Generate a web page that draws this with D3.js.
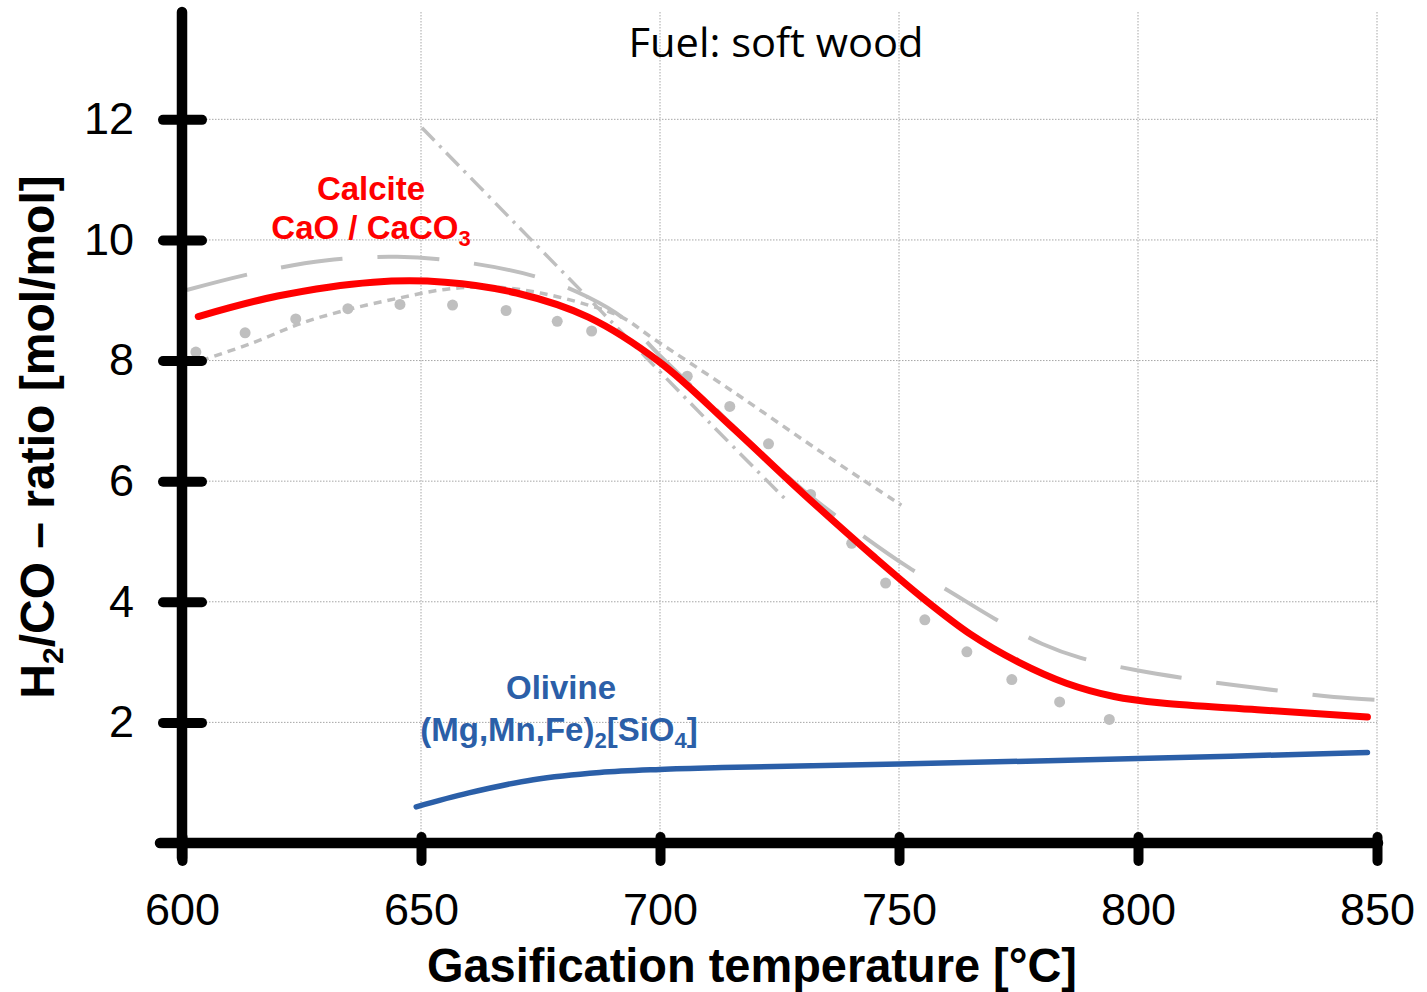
<!DOCTYPE html>
<html>
<head>
<meta charset="utf-8">
<script src="https://cdn.jsdelivr.net/npm/d3@7/dist/d3.min.js"></script>
<style>
  html, body { margin: 0; padding: 0; background: #fff; }
  svg { display: block; }
</style>
</head>
<body>
<svg id="chart" width="1427" height="992" font-family="'Liberation Sans', Arial, sans-serif"></svg>
<script>
// Gasification temperature [°C] and H2/CO ratio [mol/mol]
const xTicks = [600, 650, 700, 750, 800, 850];
const yTicks = [2, 4, 6, 8, 10, 12];

// Calcite (CaO / CaCO3) bed material
const calciteT = [603.4, 620, 640, 655, 670, 685, 700, 715, 730, 745, 755, 765, 775, 785, 795, 805, 825, 848];
const calciteV = [8.73, 9.07, 9.30, 9.30, 9.12, 8.72, 7.97, 6.90, 5.79, 4.73, 4.06, 3.46, 3.00, 2.65, 2.43, 2.32, 2.21, 2.09];

// Olivine ((Mg,Mn,Fe)2[SiO4]) bed material
const olivineT = [649, 660, 673.5, 687.4, 700, 713, 750, 800, 848];
const olivineV = [0.60, 0.83, 1.05, 1.17, 1.22, 1.25, 1.31, 1.40, 1.50];

// Comparison curves (grey)
const longDashT = [601, 615, 630, 645, 660, 675, 685, 692, 700, 710, 720, 730, 742, 752, 760, 770, 780, 788, 800, 810, 820, 830, 841, 851];
const longDashV = [9.17, 9.45, 9.66, 9.72, 9.62, 9.37, 9.05, 8.72, 8.08, 7.32, 6.56, 5.85, 5.12, 4.57, 4.20, 3.72, 3.30, 3.07, 2.86, 2.73, 2.62, 2.52, 2.42, 2.37];

const shortDashT = [604, 615, 625, 635, 645, 655, 665, 675, 685, 692, 698.5, 715, 733, 750.5];
const shortDashV = [8.00, 8.30, 8.62, 8.85, 9.03, 9.18, 9.22, 9.12, 8.92, 8.72, 8.37, 7.50, 6.52, 5.60];

const dashDotT = [650.2, 670, 690, 710, 727];
const dashDotV = [11.86, 10.25, 8.63, 7.00, 5.64];

const pointsT = [602.9, 613.2, 623.8, 634.7, 645.6, 656.6, 667.8, 678.5, 685.7, 705.7, 714.6, 722.7, 731.5, 740.1, 747.2, 755.4, 764.2, 773.6, 783.6, 794.0];
const pointsV = [8.14, 8.46, 8.69, 8.86, 8.93, 8.92, 8.83, 8.65, 8.49, 7.74, 7.24, 6.62, 5.78, 4.97, 4.31, 3.70, 3.17, 2.71, 2.34, 2.05];

const zip = (a, b) => a.map((v, i) => [v, b[i]]);

const svg = d3.select("#chart");
const x = d3.scaleLinear().domain([600, 850]).range([182, 1377]);
const y = d3.scaleLinear().domain([0, 13.78]).range([843, 12]);

const GRID = "#a6a6a6";
const GREY = "#bfbfbf";
const RED = "#ff0000";
const BLUE = "#2b5fa8";

// grid
const grid = svg.append("g");
grid.selectAll("line.h").data(yTicks).join("line")
  .attr("x1", x(600)).attr("x2", x(850))
  .attr("y1", d => y(d)).attr("y2", d => y(d))
  .attr("stroke", GRID).attr("stroke-width", 1).attr("stroke-dasharray", "1.5,1.5");
grid.selectAll("line.v").data(xTicks.slice(1)).join("line")
  .attr("x1", d => x(d)).attr("x2", d => x(d))
  .attr("y1", y(13.78)).attr("y2", y(0))
  .attr("stroke", GRID).attr("stroke-width", 1).attr("stroke-dasharray", "1.5,1.5");

const line = d3.line().x(d => x(d[0])).y(d => y(d[1])).curve(d3.curveCatmullRom.alpha(0.5));

// grey comparison curves
svg.append("path").datum(zip(longDashT, longDashV)).attr("d", line)
  .attr("fill", "none").attr("stroke", GREY).attr("stroke-width", 4)
  .attr("stroke-dasharray", "62,35");
svg.append("path").datum(zip(shortDashT, shortDashV)).attr("d", line)
  .attr("fill", "none").attr("stroke", GREY).attr("stroke-width", 3.5)
  .attr("stroke-dasharray", "8,6");
svg.append("path").datum(zip(dashDotT, dashDotV)).attr("d", line)
  .attr("fill", "none").attr("stroke", GREY).attr("stroke-width", 3.5)
  .attr("stroke-dasharray", "18,7,3,7");
svg.append("g").selectAll("circle").data(zip(pointsT, pointsV)).join("circle")
  .attr("cx", d => x(d[0])).attr("cy", d => y(d[1])).attr("r", 5.5)
  .attr("fill", GREY);

// main curves
svg.append("path").datum(zip(calciteT, calciteV)).attr("d", line)
  .attr("fill", "none").attr("stroke", RED).attr("stroke-width", 7)
  .attr("stroke-linecap", "round").attr("stroke-linejoin", "round");
svg.append("path").datum(zip(olivineT, olivineV)).attr("d", line)
  .attr("fill", "none").attr("stroke", BLUE).attr("stroke-width", 5.5)
  .attr("stroke-linecap", "round").attr("stroke-linejoin", "round");

// axes
const yAxis = svg.append("g").attr("transform", `translate(${x(600)},0)`)
  .call(d3.axisLeft(y).tickValues(yTicks).tickSize(0).tickPadding(48).tickFormat(d3.format("d")));
yAxis.select(".domain").remove();
yAxis.attr("font-family", null).attr("font-size", null);
yAxis.selectAll(".tick text").attr("font-size", 45).attr("fill", "#000");
yAxis.selectAll(".tick").append("line")
  .attr("x1", -19).attr("x2", 20).attr("y1", 0).attr("y2", 0)
  .attr("stroke", "#000").attr("stroke-width", 10).attr("stroke-linecap", "round");

const xAxis = svg.append("g").attr("transform", `translate(0,${y(0)})`)
  .call(d3.axisBottom(x).tickValues(xTicks).tickSize(0).tickPadding(50).tickFormat(d3.format("d")));
xAxis.select(".domain").remove();
xAxis.attr("font-family", null).attr("font-size", null);
xAxis.selectAll(".tick text").attr("font-size", 45).attr("fill", "#000");
xAxis.selectAll(".tick").append("line")
  .attr("x1", 0).attr("x2", 0).attr("y1", -6).attr("y2", 18)
  .attr("stroke", "#000").attr("stroke-width", 10).attr("stroke-linecap", "round");

svg.append("line")
  .attr("x1", x(600)).attr("x2", x(600)).attr("y1", 12).attr("y2", 858)
  .attr("stroke", "#000").attr("stroke-width", 10.5).attr("stroke-linecap", "round");
svg.append("line")
  .attr("x1", 160).attr("x2", 1378).attr("y1", y(0)).attr("y2", y(0))
  .attr("stroke", "#000").attr("stroke-width", 10.5).attr("stroke-linecap", "round");

// titles
svg.append("text").attr("x", 776).attr("y", 57).attr("text-anchor", "middle")
  .attr("font-family", "'Open Sans', 'Noto Sans', sans-serif").attr("font-size", 40)
  .attr("textLength", 295).attr("lengthAdjust", "spacingAndGlyphs")
  .attr("fill", "#000").text("Fuel: soft wood");

svg.append("text").attr("x", 752).attr("y", 982).attr("text-anchor", "middle")
  .attr("font-size", 48).attr("font-weight", "bold")
  .attr("textLength", 650).attr("lengthAdjust", "spacingAndGlyphs")
  .text("Gasification temperature [°C]");

const yt = svg.append("text").attr("transform", "translate(54,437) rotate(-90)")
  .attr("text-anchor", "middle").attr("font-size", 48).attr("font-weight", "bold");
yt.append("tspan").text("H");
yt.append("tspan").attr("font-size", 30).attr("dy", 9).text("2");
yt.append("tspan").attr("dy", -9).text("/CO – ratio [mol/mol]");

// series labels
const calc = svg.append("g").attr("fill", RED).attr("font-weight", "bold").attr("font-size", 33);
calc.append("text").attr("x", 371).attr("y", 200).attr("text-anchor", "middle").text("Calcite");
const c2 = calc.append("text").attr("x", 371).attr("y", 239).attr("text-anchor", "middle");
c2.append("tspan").text("CaO / CaCO");
c2.append("tspan").attr("font-size", 22).attr("dy", 7).text("3");

const oliv = svg.append("g").attr("fill", BLUE).attr("font-weight", "bold").attr("font-size", 33);
oliv.append("text").attr("x", 561).attr("y", 699).attr("text-anchor", "middle").text("Olivine");
const o2 = oliv.append("text").attr("x", 559).attr("y", 741).attr("text-anchor", "middle");
o2.append("tspan").text("(Mg,Mn,Fe)");
o2.append("tspan").attr("font-size", 22).attr("dy", 7).text("2");
o2.append("tspan").attr("dy", -7).text("[SiO");
o2.append("tspan").attr("font-size", 22).attr("dy", 7).text("4");
o2.append("tspan").attr("dy", -7).text("]");
</script>
</body>
</html>
